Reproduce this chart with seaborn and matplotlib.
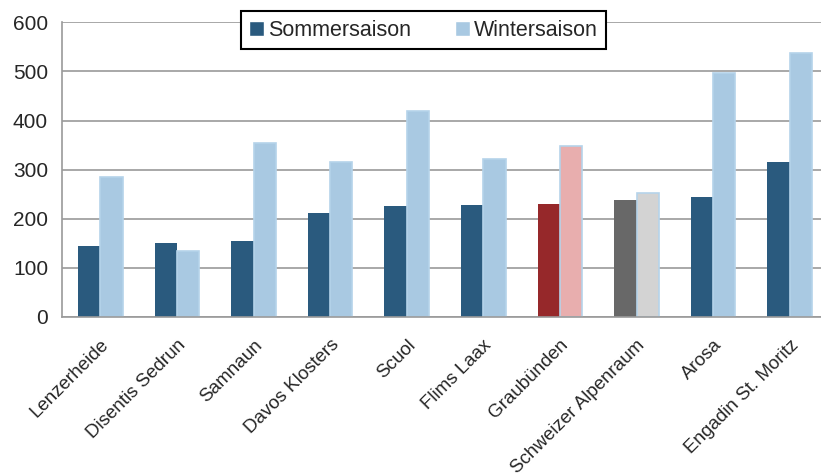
import pandas as pd
import seaborn as sns
import matplotlib.pyplot as plt

# Werte
orte = ["Lenzerheide", "Disentis Sedrun", "Samnaun", "Davos Klosters", "Scuol",
        "Flims Laax", "Graubünden", "Schweizer Alpenraum", "Arosa", "Engadin St. Moritz"]
sommer = [145, 150, 155, 212, 227, 229, 231, 239, 244, 316]
winter = [285, 135, 354, 315, 420, 322, 349, 253, 496, 538]
saisons = ["Sommersaison", "Wintersaison"]

df = pd.DataFrame({
    "Ort": orte * 2,
    "Saison": [saisons[0]] * len(orte) + [saisons[1]] * len(orte),
    "Wert": sommer + winter,
})

sns.set_theme(style="white")
plt.rcParams['font.family'] = ['Liberation Sans', 'DejaVu Sans']

fig = plt.figure(figsize=(8.21, 4.75), dpi=100)
ax = fig.add_axes([62 / 821, 158 / 475, 766 / 821, 294.6 / 475])

dunkel = "#2A5A7E"
hell = "#A9C9E2"
ax = sns.barplot(data=df, x="Ort", y="Wert", hue="Saison", order=orte,
                 hue_order=saisons, palette=[dunkel, hell], width=0.58,
                 saturation=1, ax=ax)

# Sonderfarben fuer Graubuenden und Alpenraum
sonder = {"Graubünden": ("#96282A", "#E8AEAE"), "Schweizer Alpenraum": ("#686868", "#D3D3D3")}
for i, ort in enumerate(orte):
    s_bar = ax.containers[0][i]
    w_bar = ax.containers[1][i]
    s_bar.set_linewidth(0)
    w_bar.set_edgecolor("#B5D3EA")
    w_bar.set_linewidth(1.2)
    if ort in sonder:
        s_bar.set_facecolor(sonder[ort][0])
        w_bar.set_facecolor(sonder[ort][1])

ax.set_ylim(0, 600)
ax.set_xlim(-0.5, len(orte) - 0.5)
ax.set_yticks(range(0, 601, 100))
ax.yaxis.grid(True, color="#9A9A9A", linewidth=1.2)
ax.set_axisbelow(True)
ax.set_xlabel("")
ax.set_ylabel("")

for side in ["top", "right"]:
    ax.spines[side].set_visible(False)
for side in ["left", "bottom"]:
    ax.spines[side].set_color("#9A9A9A")
    ax.spines[side].set_linewidth(1.2)

# Ticks an den Kategoriegrenzen
ax.set_xticks([i - 0.5 for i in range(len(orte))], minor=True)
ax.tick_params(axis="x", which="minor", length=5, color="#9A9A9A", width=1.2, direction="out")
ax.tick_params(axis="x", which="major", length=0, pad=14)
ax.tick_params(axis="y", length=5, color="#9A9A9A", width=1.2, direction="out", labelsize=15, pad=5)
ax.set_xticks(range(len(orte)))
ax.set_xticklabels(orte, rotation=45, ha="right", rotation_mode="anchor", fontsize=13.5)

ax.legend(loc="upper center", bbox_to_anchor=(423.5 / 821, 1 - 11 / 475), bbox_transform=fig.transFigure,
          ncol=2, frameon=True, fancybox=False, framealpha=1, edgecolor="black",
          fontsize=15.5, handlelength=0.7, handleheight=0.7, handletextpad=0.2,
          columnspacing=2.0, borderpad=0.4, borderaxespad=0, title=None).get_frame().set_linewidth(1.5)

fig.savefig("out.png", dpi=100)
